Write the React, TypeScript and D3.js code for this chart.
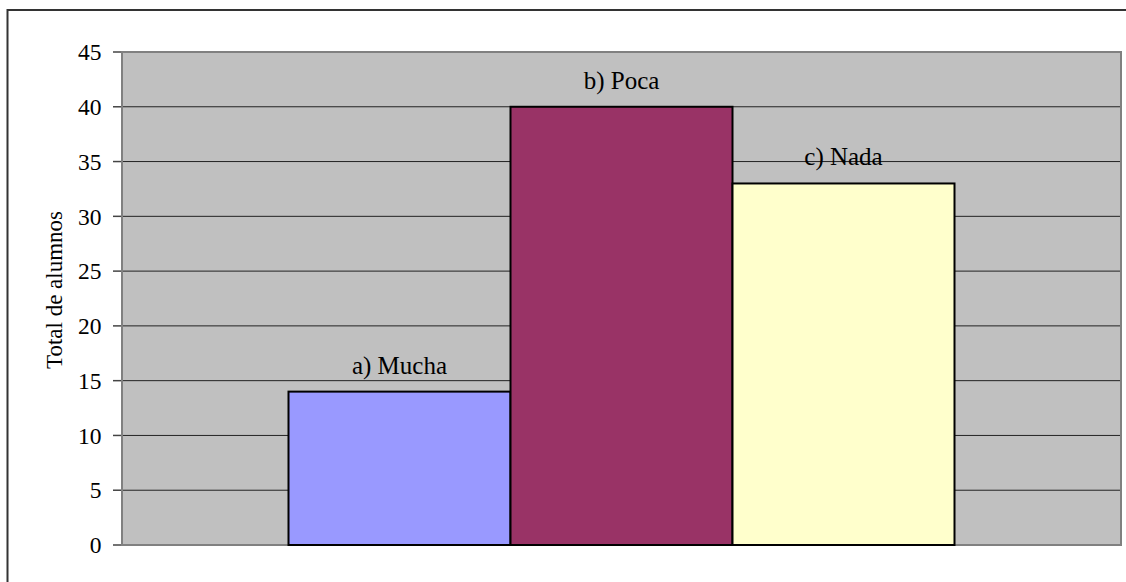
import React from "react";
import * as d3 from "d3";

const categories = ["a) Mucha", "b) Poca", "c) Nada"];
const values = [14, 40, 33];
const colors = ["#9999FF", "#993366", "#FFFFCC"];
const yTicks = [0, 5, 10, 15, 20, 25, 30, 35, 40, 45];
const yTitle = "Total de alumnos";

export default function App() {
  const W = 1126, H = 582;
  const left = 122, right = 1121, top = 52, bottom = 545;
  const y = d3.scaleLinear().domain([0, 45]).range([bottom, top]);
  // single category group, three series; gap width 150%
  const group = d3.scaleBand().domain(["g"]).range([left, right]).paddingInner(0).paddingOuter(0.25);
  const x = d3.scaleBand().domain(categories).range([group("g")!, group("g")! + group.bandwidth()]).padding(0);
  const font = "'Liberation Serif', 'Times New Roman', serif";
  return (
    <svg width={W} height={H} style={{ position: "absolute", left: 0, top: 0 }} fontFamily={font}>
      <rect x={0} y={0} width={W} height={H} fill="#fff" />
      <rect x={7.5} y={10} width={1200} height={700} fill="none" stroke="#333" strokeWidth={2} />
      <rect x={left} y={top} width={right - left} height={bottom - top} fill="#C0C0C0" />
      {yTicks.map((t) => (
        <g key={t}>
          {t > 0 && t < 45 && (
            <line x1={left} x2={right} y1={y(t)} y2={y(t)} stroke="#222" strokeWidth={1} />
          )}
          <line x1={113} x2={left} y1={y(t)} y2={y(t)} stroke="#444" strokeWidth={1.5} />
          <text x={101.5} y={y(t)} dy="0.35em" textAnchor="end" fontSize={23.5} fill="#000">
            {t}
          </text>
        </g>
      ))}
      <rect x={left} y={top} width={right - left} height={bottom - top} fill="none" stroke="#808080" strokeWidth={2} />
      {categories.map((c, i) => (
        <g key={c}>
          <rect
            x={x(c)!}
            y={y(values[i])}
            width={x.bandwidth()}
            height={bottom - y(values[i])}
            fill={colors[i]}
            stroke="#000"
            strokeWidth={2}
          />
          <text x={x(c)! + x.bandwidth() / 2} y={y(values[i]) - 18} textAnchor="middle" fontSize={25} fill="#000">
            {c}
          </text>
        </g>
      ))}
      <text
        transform={`translate(62, 290) rotate(-90)`}
        textAnchor="middle"
        fontSize={23}
        fill="#000"
      >
        {yTitle}
      </text>
    </svg>
  );
}
